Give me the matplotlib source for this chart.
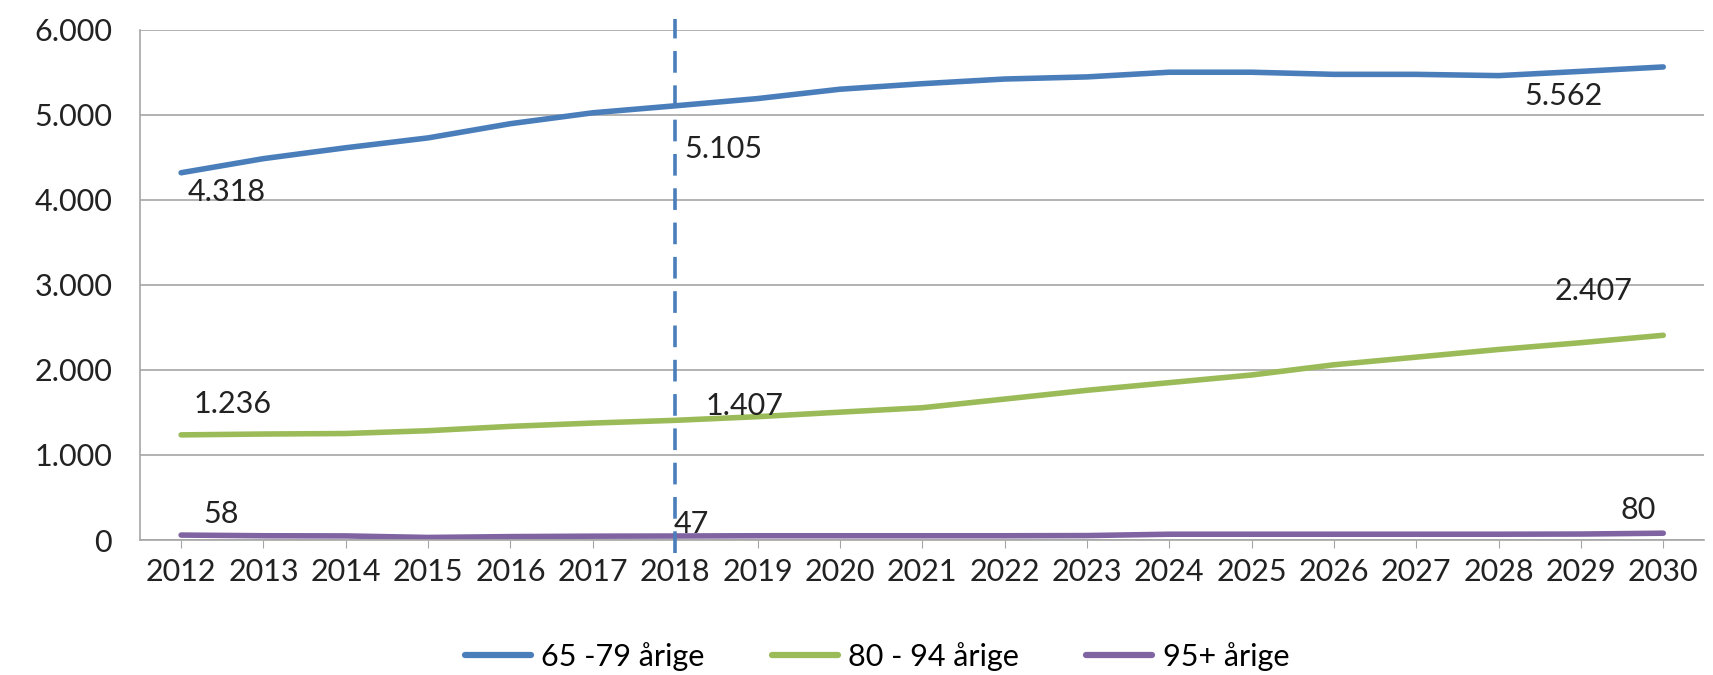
import numpy as np
import matplotlib
matplotlib.use("Agg")
import matplotlib.pyplot as plt
from matplotlib.ticker import FuncFormatter

years = list(range(2012, 2031))
age_65_79 = [4318, 4484, 4612, 4728, 4895, 5023, 5105, 5190, 5300, 5365, 5420, 5445,
             5500, 5500, 5475, 5475, 5460, 5510, 5562]
age_80_94 = [1236, 1246, 1252, 1285, 1336, 1375, 1407, 1450, 1503, 1555, 1657, 1760,
             1850, 1940, 2060, 2150, 2240, 2320, 2407]
age_95 = [58, 50, 48, 30, 40, 45, 47, 50, 50, 50, 50, 52, 68, 68, 68, 68, 68, 70, 80]
series_names = ["65 -79 årige", "80 - 94 årige", "95+ årige"]
colors = ["#4a7ebb", "#9bbb59", "#8064a2"]
split_year = 2018

# (year, value, text, dx, dy) offsets in points
labels = [
    (2012, 4318, "4.318", 33, -14),
    (2018, 5105, "5.105", 35, -31),
    (2030, 5562, "5.562", -72, -21),
    (2012, 1236, "1.236", 37, 22),
    (2018, 1407, "1.407", 50, 10),
    (2030, 2407, "2.407", -50, 32),
    (2012, 58, "58", 29, 15),
    (2018, 47, "47", 12, 9),
    (2030, 80, "80", -18, 17),
]

plt.rcParams['font.family'] = ['Lato', 'DejaVu Sans']
fs = 22

fig = plt.figure(figsize=(17.13, 6.75), dpi=100)
ax = fig.add_axes([0.0817, 0.2, 0.9133, 0.756])

for vals, name, c in zip([age_65_79, age_80_94, age_95], series_names, colors):
    ax.plot(years, vals, color=c, lw=4, label=name, solid_capstyle='round')

ax.axvline(split_year, ymin=-0.025, ymax=1.02, color="#4a7ebb", lw=2.6,
           dashes=(6, 3.5), clip_on=False, zorder=5)

for x, y, t, dx, dy in labels:
    ax.annotate(t, (x, y), xytext=(dx, dy), textcoords='offset points',
                ha='center', va='center', fontsize=fs, color='#222222')

ax.set_xlim(2011.5, 2030.5)
ax.set_ylim(0, 6000)
ax.set_yticks(range(0, 6001, 1000))
ax.yaxis.set_major_formatter(FuncFormatter(lambda v, p: f"{int(v):,}".replace(",", ".")))
ax.set_xticks(years)
ax.grid(axis='y', color='#a6a6a6', lw=1.2)
ax.set_axisbelow(True)
for s in ['top', 'right']:
    ax.spines[s].set_visible(False)
for s in ['left', 'bottom']:
    ax.spines[s].set_color('#a6a6a6')
    ax.spines[s].set_linewidth(1.2)
ax.tick_params(axis='y', length=0, pad=20, labelsize=fs, labelcolor='#222222')
ax.tick_params(axis='x', length=6, color='#a6a6a6', pad=7, labelsize=fs, labelcolor='#222222')

leg = fig.legend(loc='center', bbox_to_anchor=(0.512, 0.028), ncol=3, frameon=False,
                 fontsize=fs, handlelength=2.15, handletextpad=0.35, columnspacing=2.2)
for h in leg.legend_handles:
    h.set_linewidth(4.5)

fig.savefig("out.png", dpi=100)
